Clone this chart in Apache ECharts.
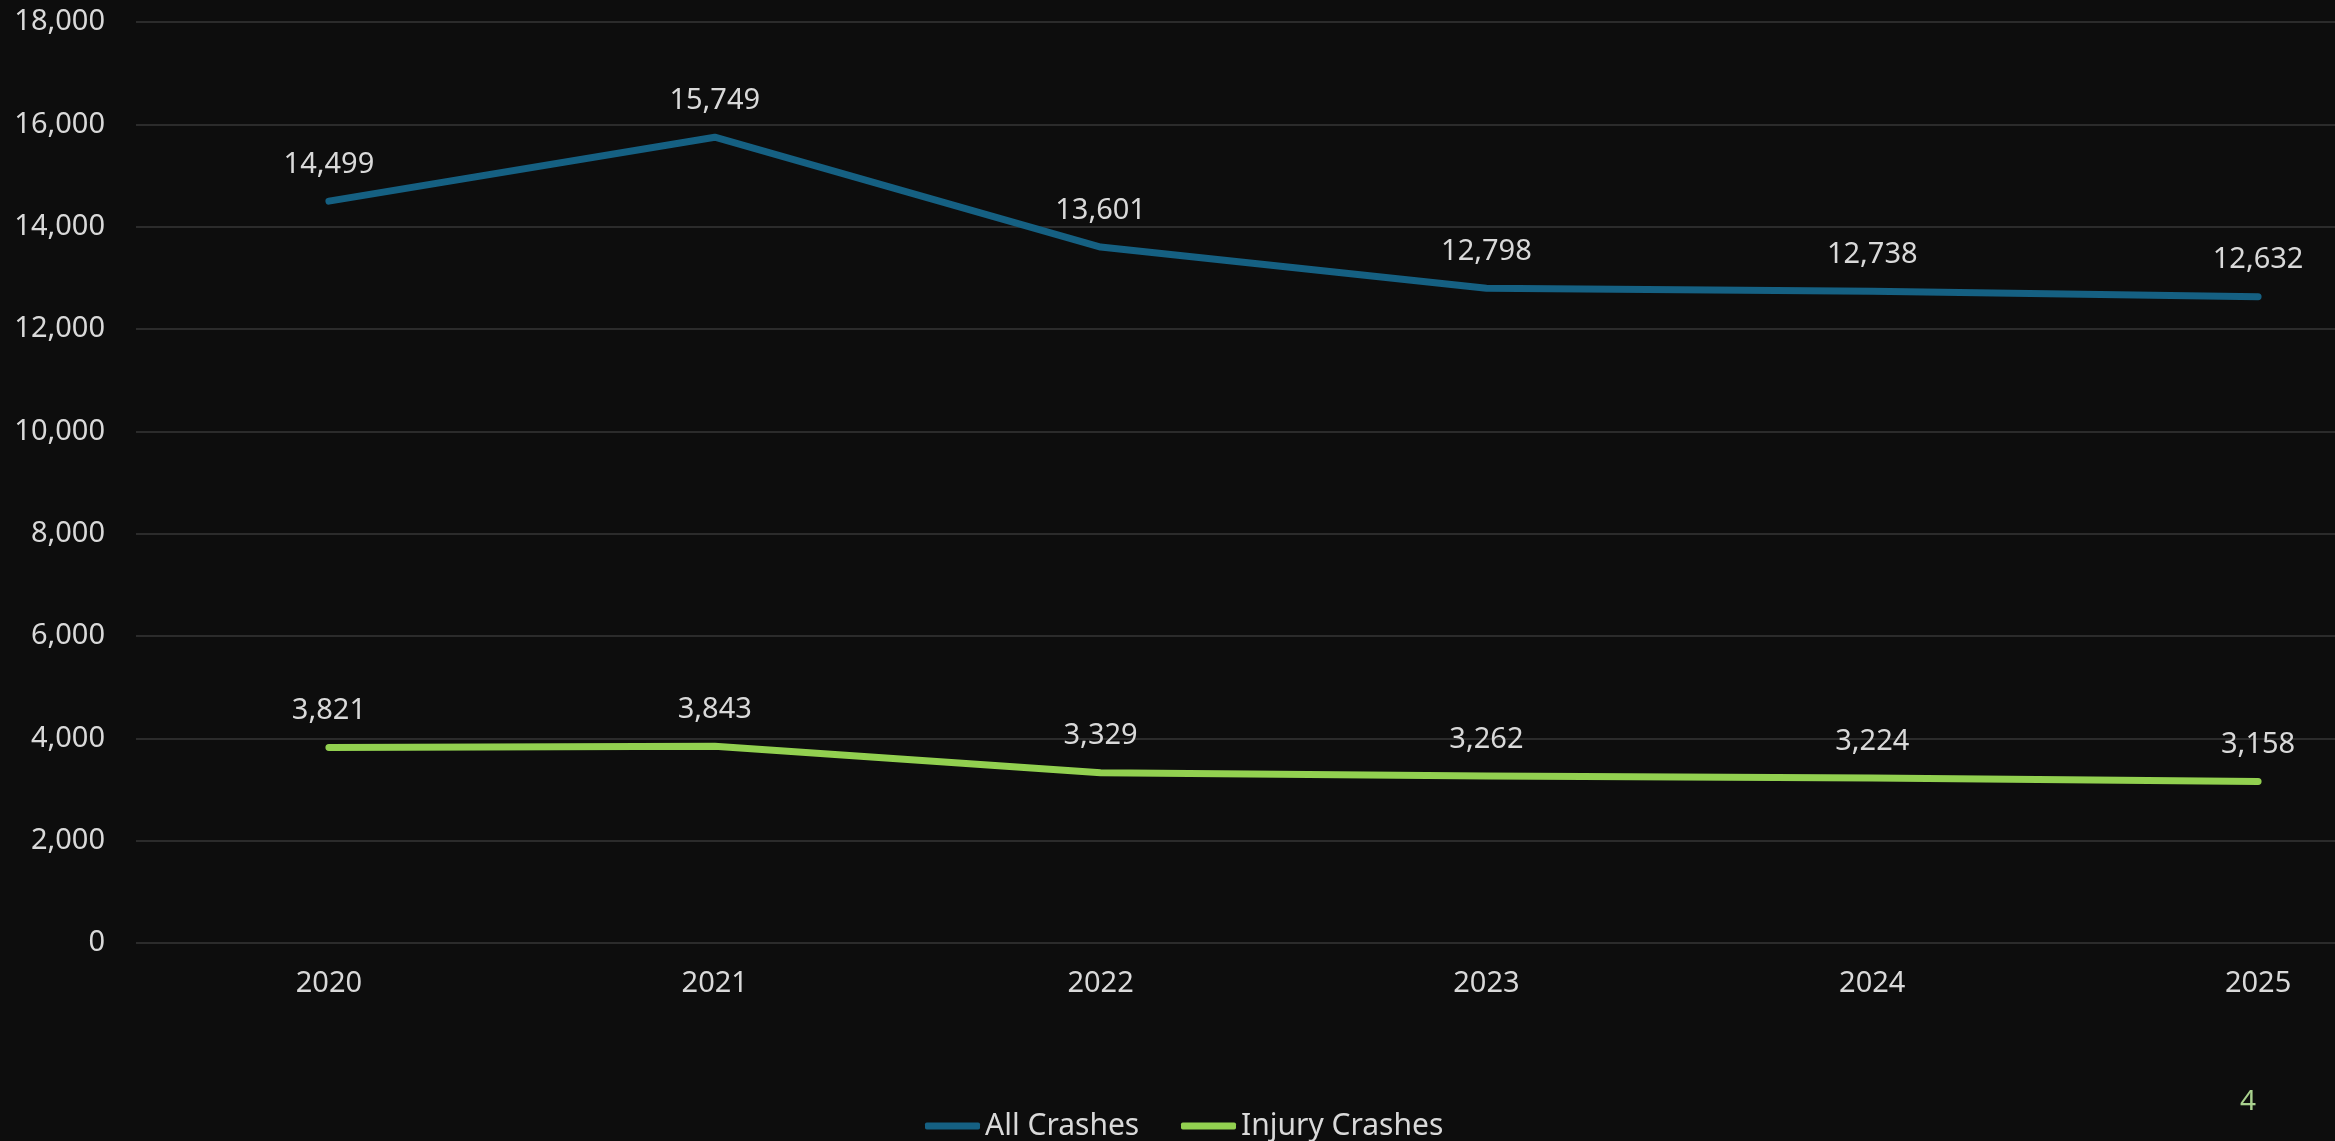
<!DOCTYPE html>
<html>
<head>
<meta charset="utf-8">
<script src="https://cdn.jsdelivr.net/npm/echarts@6/dist/echarts.min.js"></script>
<style>
html,body{margin:0;padding:0;background:#0d0d0d;overflow:hidden;width:2335px;height:1141px;}
#c{width:2451px;height:1141px;}
</style>
</head>
<body>
<div id="c"></div>
<script>
const years = ['2020','2021','2022','2023','2024','2025'];
const allCrashes = [14499, 15749, 13601, 12798, 12738, 12632];
const injuryCrashes = [3821, 3843, 3329, 3262, 3224, 3158];
const seriesNames = ['All Crashes', 'Injury Crashes'];
const pageNumber = '4';

const chart = echarts.init(document.getElementById('c'));
const txt = '#d9d9d9';
const font = "'Noto Sans', sans-serif";
const labelFmt = p => p.value.toLocaleString('en-US');
const legendCommon = {
  top: 1106, itemWidth: 55, itemHeight: 7, icon: 'roundRect',
  textStyle: {color: txt, fontSize: 30, fontFamily: font}
};
chart.setOption({
  backgroundColor: '#0d0d0d',
  animation: false,
  grid: {left: 136, right: 0, top: 22, bottom: 198, containLabel: false},
  legend: [
    Object.assign({data: [seriesNames[0]], left: 920}, legendCommon),
    Object.assign({data: [seriesNames[1]], left: 1176}, legendCommon)
  ],
  xAxis: {
    type: 'category', data: years, boundaryGap: true,
    axisLine: {show: false}, axisTick: {show: false},
    axisLabel: {color: txt, fontSize: 29, fontFamily: font, margin: 26}
  },
  yAxis: {
    type: 'value', min: 0, max: 18000, interval: 2000,
    axisLine: {show: false}, axisTick: {show: false},
    splitLine: {lineStyle: {color: '#2b2b2b', width: 2}},
    axisLabel: {color: txt, fontSize: 29, fontFamily: font, margin: 31,
      formatter: v => v.toLocaleString('en-US')}
  },
  series: [
    {name: seriesNames[0], type: 'line', data: allCrashes, symbol: 'circle', symbolSize: 0.1, showSymbol: true,
     lineStyle: {color: '#156082', width: 7, cap: 'round', join: 'round'}, itemStyle: {color: '#156082'},
     label: {show: true, position: 'top', distance: 22, color: txt, fontSize: 29, fontFamily: font, formatter: labelFmt}},
    {name: seriesNames[1], type: 'line', data: injuryCrashes, symbol: 'circle', symbolSize: 0.1, showSymbol: true,
     lineStyle: {color: '#92d050', width: 7, cap: 'round', join: 'round'}, itemStyle: {color: '#92d050'},
     label: {show: true, position: 'top', distance: 22, color: txt, fontSize: 29, fontFamily: font, formatter: labelFmt}}
  ],
  graphic: [{type: 'text', left: 2240, top: 1088,
    style: {text: pageNumber, fill: '#a9d18e', fontSize: 28, fontFamily: font}}]
});
</script>
</body>
</html>
